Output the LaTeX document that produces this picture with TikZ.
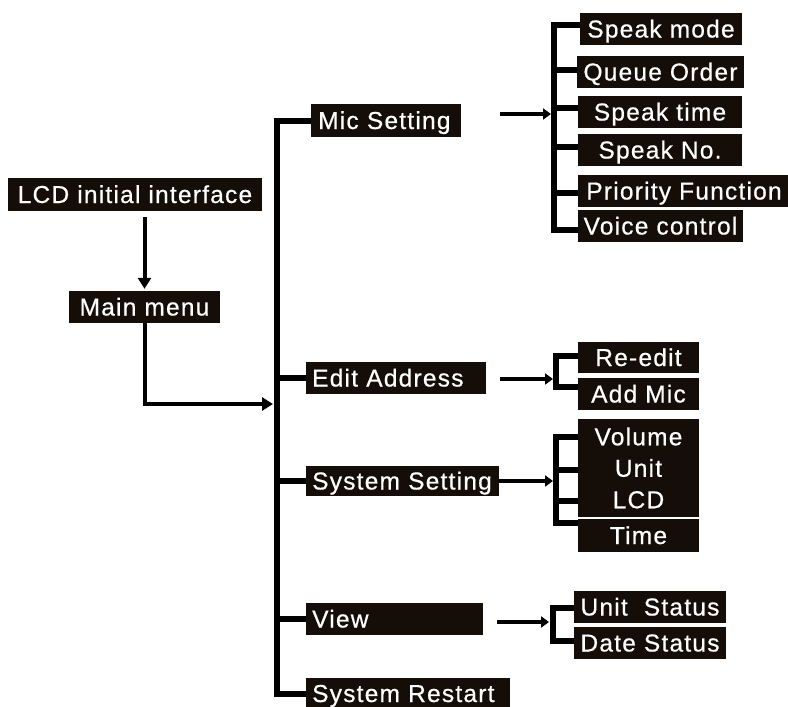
\documentclass[tikz,border=0pt]{standalone}
\usepackage{fontspec}
\setmainfont{Liberation Sans}[LetterSpace=5,FakeBold=0.6]
\usetikzlibrary{arrows.meta,calc}
\definecolor{boxc}{HTML}{140D08}
\begin{document}
\begin{tikzpicture}[x=1pt,y=-1pt,
  box/.style={fill=boxc,text=white,inner sep=0pt,font=\fontsize{24.5}{31.5}\selectfont},
  lbl/.style={box,text height=17pt,text depth=0pt},
  lft/.style={lbl,anchor=west,align=left},
  conn/.style={line width=6pt,draw=black,line join=miter},
  arr/.style={line width=4pt,-{Triangle[length=11pt,width=13pt]}},
  sarr/.style={line width=4pt,-{Triangle[length=8pt,width=11pt]}}]
\fill[white] (0,0) rectangle (788,707);
\useasboundingbox (0,0) rectangle (788,707);
% left column
\node[lbl,minimum width=254pt,minimum height=33pt] (lcd) at (135,194.5) {LCD initial interface};
\node[lbl,minimum width=151pt,minimum height=32pt] (main) at (144.5,307) {Main menu};
% main menu items
\node[lft,minimum height=33pt,inner xsep=7pt,text width=136pt] (mic) at (311,120.5) {Mic Setting};
\node[lft,minimum height=32pt,inner xsep=6pt,text width=168pt] (edit) at (306,378) {Edit Address};
\node[lft,minimum height=30pt,inner xsep=6pt,text width=181pt] (sys) at (306,481) {System Setting};
\node[lft,minimum height=32pt,inner xsep=6pt,text width=165pt] (view) at (306,619) {View};
\node[lft,minimum height=32pt,inner xsep=6pt,text width=192pt] (restart) at (306,693.5) {System Restart};
% mic submenu
\node[lbl,minimum width=162pt,minimum height=32pt] (spm) at (661,29) {Speak mode};
\node[lbl,minimum width=167pt,minimum height=32pt] (que) at (660.5,72) {Queue Order};
\node[lbl,minimum width=164pt,minimum height=32pt] (spt) at (660,112) {Speak time};
\node[lbl,minimum width=164pt,minimum height=32pt] (spn) at (660,150) {Speak No.};
\node[lbl,minimum width=212pt,minimum height=32pt] (pri) at (684,191) {Priority Function};
\node[lbl,minimum width=165pt,minimum height=32pt] (voi) at (660.5,226) {Voice control};
% edit submenu
\node[lbl,minimum width=121pt,minimum height=31pt] (red) at (638.5,357.5) {Re-edit};
\node[lbl,minimum width=121pt,minimum height=32pt] (add) at (638.5,394) {Add Mic};
% system submenu
\node[box,minimum width=121pt,minimum height=98pt,align=center] (grp) at (638.5,468) {Volume\\Unit\\LCD};
\node[lbl,minimum width=121pt,minimum height=33pt] (tim) at (638.5,535.5) {Time};
% view submenu
\node[lbl,minimum width=152pt,minimum height=32pt] (uns) at (650,607) {Unit\ \ Status};
\node[lbl,minimum width=152pt,minimum height=32pt] (das) at (650,643) {Date Status};
% coordinates
\coordinate (tb) at (276.5,693.5);
\coordinate (mj) at (273,404);
\coordinate (s1) at (554,25);
\coordinate (s6) at (554,230);
\coordinate (r1) at (556,356);
\coordinate (r2) at (556,387);
\coordinate (v1) at (556,437);
\coordinate (v2) at (556,470);
\coordinate (v3) at (556,501);
\coordinate (v4) at (556,523);
\coordinate (w1) at (552.5,608);
\coordinate (w2) at (552.5,641);
\coordinate (ma) at (500,114);
\coordinate (mb) at (551,114);
\coordinate (ea) at (500,379);
\coordinate (eb) at (553,379);
\coordinate (sb) at (553,481);
\coordinate (va) at (497,622);
\coordinate (vb) at (549,622);
% trunk
\draw[conn] (mic.west) -| (tb) -- (restart.west);
\draw[conn] (edit.west) -- (edit.west -| tb);
\draw[conn] (sys.west) -- (sys.west -| tb);
\draw[conn] (view.west) -- (view.west -| tb);
% left arrows
\draw[arr,shorten <=6pt,shorten >=2pt] (main.north |- lcd.south) -- (main.north);
\draw[arr] (main.south) |- (mj);
% brackets
\draw[conn] (spm.west |- s1) -- (s1) -- (s6) -- (voi.west |- s6);
\draw[conn] (s1 |- 0,70) -- (que.west |- 0,70);
\draw[conn] (s1 |- 0,108) -- (spt.west |- 0,108);
\draw[conn] (s1 |- 0,147) -- (spn.west |- 0,147);
\draw[conn] (s1 |- 0,193) -- (pri.west |- 0,193);
\draw[conn] (red.west |- r1) -- (r1) -- (r2) -- (add.west |- r2);
\draw[conn] (grp.west |- v1) -- (v1) -- (v4) -- (tim.west |- v4);
\draw[conn] (v2) -- (grp.west |- v2);
\draw[conn] (v3) -- (grp.west |- v3);
\draw[conn] (uns.west |- w1) -- (w1) -- (w2) -- (das.west |- w2);
% small arrows
\draw[sarr] (ma) -- (mb);
\draw[sarr] (ea) -- (eb);
\draw[sarr] (sys.east) -- (sb);
\draw[sarr] (va) -- (vb);
\end{tikzpicture}
\end{document}
